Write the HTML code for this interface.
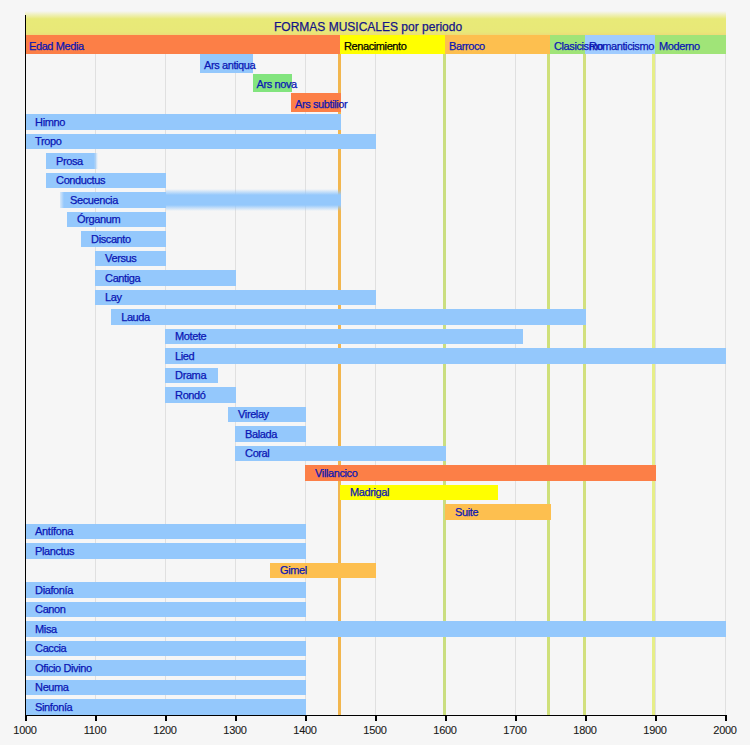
<!DOCTYPE html>
<html><head><meta charset="utf-8"><style>
html,body{margin:0;padding:0;background:#f6f6f6;width:750px;height:745px;overflow:hidden}
#c{position:relative;width:750px;height:745px;font-family:"Liberation Sans",sans-serif}
.b{position:absolute}
.t{position:absolute;white-space:nowrap;font-size:11px;line-height:12px;color:#0a16b4;letter-spacing:-0.4px;-webkit-text-stroke:0.25px}
</style></head><body><div id="c">

<div class="b" style="left:95.00px;top:54px;width:1px;height:662px;background:#e0e0e0"></div>
<div class="b" style="left:165.00px;top:54px;width:1px;height:662px;background:#e0e0e0"></div>
<div class="b" style="left:235.00px;top:54px;width:1px;height:662px;background:#e0e0e0"></div>
<div class="b" style="left:305.00px;top:54px;width:1px;height:662px;background:#e0e0e0"></div>
<div class="b" style="left:375.00px;top:54px;width:1px;height:662px;background:#e0e0e0"></div>
<div class="b" style="left:445.00px;top:54px;width:1px;height:662px;background:#e0e0e0"></div>
<div class="b" style="left:515.00px;top:54px;width:1px;height:662px;background:#e0e0e0"></div>
<div class="b" style="left:585.00px;top:54px;width:1px;height:662px;background:#e0e0e0"></div>
<div class="b" style="left:655.00px;top:54px;width:1px;height:662px;background:#e0e0e0"></div>
<div class="b" style="left:725.00px;top:54px;width:1px;height:662px;background:#e0e0e0"></div>
<div class="b" style="left:338.00px;top:54px;width:3px;height:662px;background:#f2b64e"></div>
<div class="b" style="left:442.80px;top:54px;width:3px;height:662px;background:#cade80"></div>
<div class="b" style="left:547.10px;top:54px;width:3px;height:662px;background:#cfe07a"></div>
<div class="b" style="left:582.50px;top:54px;width:3px;height:662px;background:#d2e07e"></div>
<div class="b" style="left:651.70px;top:54px;width:3px;height:662px;background:#e6ee88"></div>
<div class="b" style="left:25px;top:11px;width:701px;height:24px;background:linear-gradient(to bottom,rgba(232,234,120,0) 0px,rgba(232,234,120,0.5) 4px,#e8ea78 8px,#e8e878 21px,#ecdc78 24px)"></div>
<div class="b" style="left:25.00px;top:35px;width:315.00px;height:19px;background:#fc7f47"></div>
<div class="b" style="left:340.00px;top:35px;width:105.00px;height:19px;background:#ffff00"></div>
<div class="b" style="left:445.00px;top:35px;width:105.00px;height:19px;background:#fdbf4f"></div>
<div class="b" style="left:550.00px;top:35px;width:35.00px;height:19px;background:#a0e478"></div>
<div class="b" style="left:585.00px;top:35px;width:70.00px;height:19px;background:#a0ccff"></div>
<div class="b" style="left:655.00px;top:35px;width:70.98px;height:19px;background:#a0e478"></div>
<div class="b" style="left:200.00px;top:54.15px;width:53.30px;height:18.5px;background:#94c8fc"></div>
<div class="b" style="left:252.50px;top:73.65px;width:39.30px;height:18.5px;background:#82e47e"></div>
<div class="b" style="left:291.00px;top:93.15px;width:49.80px;height:18.5px;background:#fc7f47"></div>
<div class="b" style="left:25.00px;top:114.15px;width:315.80px;height:15.5px;background:#94c8fc"></div>
<div class="b" style="left:25.00px;top:133.65px;width:350.80px;height:15.5px;background:#94c8fc"></div>
<div class="b" style="left:46.00px;top:153.15px;width:52.00px;height:15.5px;background:linear-gradient(to right,#94c8fc 0px,#94c8fc 48px,rgba(148,200,252,0) 52px)"></div>
<div class="b" style="left:46.00px;top:172.65px;width:119.80px;height:15.5px;background:#94c8fc"></div>
<div class="b" style="left:60.00px;top:192.15px;width:106px;height:15.5px;background:linear-gradient(to right,rgba(148,200,252,0.3) 0px,#94c8fc 4px)"></div>
<div class="b" style="left:166px;top:188.90px;width:175px;height:22px;background:linear-gradient(to bottom,rgba(148,200,252,0) 0px,#94c8fc 6px,#94c8fc 16px,rgba(148,200,252,0) 22px)"></div>
<div class="b" style="left:67.00px;top:211.65px;width:98.80px;height:15.5px;background:#94c8fc"></div>
<div class="b" style="left:81.00px;top:231.15px;width:84.80px;height:15.5px;background:#94c8fc"></div>
<div class="b" style="left:95.00px;top:250.65px;width:70.80px;height:15.5px;background:#94c8fc"></div>
<div class="b" style="left:95.00px;top:270.15px;width:140.80px;height:15.5px;background:#94c8fc"></div>
<div class="b" style="left:95.00px;top:289.65px;width:280.80px;height:15.5px;background:#94c8fc"></div>
<div class="b" style="left:111.10px;top:309.15px;width:474.70px;height:15.5px;background:#94c8fc"></div>
<div class="b" style="left:165.00px;top:328.65px;width:357.80px;height:15.5px;background:#94c8fc"></div>
<div class="b" style="left:165.00px;top:348.15px;width:560.80px;height:15.5px;background:#94c8fc"></div>
<div class="b" style="left:165.00px;top:367.65px;width:53.30px;height:15.5px;background:#94c8fc"></div>
<div class="b" style="left:165.00px;top:387.15px;width:70.80px;height:15.5px;background:#94c8fc"></div>
<div class="b" style="left:228.00px;top:406.65px;width:77.80px;height:15.5px;background:#94c8fc"></div>
<div class="b" style="left:235.00px;top:426.15px;width:70.80px;height:15.5px;background:#94c8fc"></div>
<div class="b" style="left:235.00px;top:445.65px;width:210.80px;height:15.5px;background:#94c8fc"></div>
<div class="b" style="left:305.00px;top:465.15px;width:350.80px;height:15.5px;background:#fc7f47"></div>
<div class="b" style="left:340.00px;top:484.65px;width:158.30px;height:15.5px;background:#ffff00"></div>
<div class="b" style="left:445.00px;top:504.15px;width:105.80px;height:15.5px;background:#fdbf4f"></div>
<div class="b" style="left:25.00px;top:523.65px;width:280.80px;height:15.5px;background:#94c8fc"></div>
<div class="b" style="left:25.00px;top:543.15px;width:280.80px;height:15.5px;background:#94c8fc"></div>
<div class="b" style="left:270.00px;top:562.65px;width:105.80px;height:15.5px;background:#fdbf4f"></div>
<div class="b" style="left:25.00px;top:582.15px;width:280.80px;height:15.5px;background:#94c8fc"></div>
<div class="b" style="left:25.00px;top:601.65px;width:280.80px;height:15.5px;background:#94c8fc"></div>
<div class="b" style="left:25.00px;top:621.15px;width:700.80px;height:15.5px;background:#94c8fc"></div>
<div class="b" style="left:25.00px;top:640.65px;width:280.80px;height:15.5px;background:#94c8fc"></div>
<div class="b" style="left:25.00px;top:660.15px;width:280.80px;height:15.5px;background:#94c8fc"></div>
<div class="b" style="left:25.00px;top:679.65px;width:280.80px;height:15.5px;background:#94c8fc"></div>
<div class="b" style="left:25.00px;top:699.15px;width:280.80px;height:15.5px;background:#94c8fc"></div>
<div class="b" style="left:25px;top:15px;width:1.2px;height:701px;background:#000"></div>
<div class="b" style="left:25px;top:715px;width:701px;height:1.4px;background:#000"></div>
<div class="b" style="left:25.00px;top:715px;width:1.5px;height:6px;background:#000"></div>
<div class="t" style="left:-5.00px;top:724px;width:60px;text-align:center;color:#1a1a1a;-webkit-text-stroke:0.1px;letter-spacing:-0.3px">1000</div>
<div class="b" style="left:95.00px;top:715px;width:1.5px;height:6px;background:#000"></div>
<div class="t" style="left:65.00px;top:724px;width:60px;text-align:center;color:#1a1a1a;-webkit-text-stroke:0.1px;letter-spacing:-0.3px">1100</div>
<div class="b" style="left:165.00px;top:715px;width:1.5px;height:6px;background:#000"></div>
<div class="t" style="left:135.00px;top:724px;width:60px;text-align:center;color:#1a1a1a;-webkit-text-stroke:0.1px;letter-spacing:-0.3px">1200</div>
<div class="b" style="left:235.00px;top:715px;width:1.5px;height:6px;background:#000"></div>
<div class="t" style="left:205.00px;top:724px;width:60px;text-align:center;color:#1a1a1a;-webkit-text-stroke:0.1px;letter-spacing:-0.3px">1300</div>
<div class="b" style="left:305.00px;top:715px;width:1.5px;height:6px;background:#000"></div>
<div class="t" style="left:275.00px;top:724px;width:60px;text-align:center;color:#1a1a1a;-webkit-text-stroke:0.1px;letter-spacing:-0.3px">1400</div>
<div class="b" style="left:375.00px;top:715px;width:1.5px;height:6px;background:#000"></div>
<div class="t" style="left:345.00px;top:724px;width:60px;text-align:center;color:#1a1a1a;-webkit-text-stroke:0.1px;letter-spacing:-0.3px">1500</div>
<div class="b" style="left:445.00px;top:715px;width:1.5px;height:6px;background:#000"></div>
<div class="t" style="left:415.00px;top:724px;width:60px;text-align:center;color:#1a1a1a;-webkit-text-stroke:0.1px;letter-spacing:-0.3px">1600</div>
<div class="b" style="left:515.00px;top:715px;width:1.5px;height:6px;background:#000"></div>
<div class="t" style="left:485.00px;top:724px;width:60px;text-align:center;color:#1a1a1a;-webkit-text-stroke:0.1px;letter-spacing:-0.3px">1700</div>
<div class="b" style="left:585.00px;top:715px;width:1.5px;height:6px;background:#000"></div>
<div class="t" style="left:555.00px;top:724px;width:60px;text-align:center;color:#1a1a1a;-webkit-text-stroke:0.1px;letter-spacing:-0.3px">1800</div>
<div class="b" style="left:655.00px;top:715px;width:1.5px;height:6px;background:#000"></div>
<div class="t" style="left:625.00px;top:724px;width:60px;text-align:center;color:#1a1a1a;-webkit-text-stroke:0.1px;letter-spacing:-0.3px">1900</div>
<div class="b" style="left:725.00px;top:715px;width:1.5px;height:6px;background:#000"></div>
<div class="t" style="left:695.00px;top:724px;width:60px;text-align:center;color:#1a1a1a;-webkit-text-stroke:0.1px;letter-spacing:-0.3px">2000</div>
<div class="t" style="left:274px;top:20px;font-size:12px;line-height:14px;letter-spacing:0;color:#141488">FORMAS MUSICALES por periodo</div>
<div class="t" style="left:29.00px;top:40px;color:#0a16b4">Edad Media</div>
<div class="t" style="left:344.00px;top:40px;color:#000000">Renacimiento</div>
<div class="t" style="left:449.00px;top:40px;color:#0a16b4">Barroco</div>
<div class="t" style="left:554.00px;top:40px;color:#0a16b4">Clasicismo</div>
<div class="t" style="left:589.00px;top:40px;color:#0a16b4">Romanticismo</div>
<div class="t" style="left:659.00px;top:40px;color:#0a16b4">Moderno</div>
<div class="t" style="left:204.00px;top:58.80px">Ars antiqua</div>
<div class="t" style="left:256.50px;top:78.30px">Ars nova</div>
<div class="t" style="left:295.00px;top:97.80px">Ars subtilior</div>
<div class="t" style="left:35.10px;top:115.80px">Himno</div>
<div class="t" style="left:35.10px;top:135.30px">Tropo</div>
<div class="t" style="left:56.10px;top:154.80px">Prosa</div>
<div class="t" style="left:56.10px;top:174.30px">Conductus</div>
<div class="t" style="left:70.10px;top:193.80px">Secuencia</div>
<div class="t" style="left:77.10px;top:213.30px">Órganum</div>
<div class="t" style="left:91.10px;top:232.80px">Discanto</div>
<div class="t" style="left:105.10px;top:252.30px">Versus</div>
<div class="t" style="left:105.10px;top:271.80px">Cantiga</div>
<div class="t" style="left:105.10px;top:291.30px">Lay</div>
<div class="t" style="left:121.20px;top:310.80px">Lauda</div>
<div class="t" style="left:175.10px;top:330.30px">Motete</div>
<div class="t" style="left:175.10px;top:349.80px">Lied</div>
<div class="t" style="left:175.10px;top:369.30px">Drama</div>
<div class="t" style="left:175.10px;top:388.80px">Rondó</div>
<div class="t" style="left:238.10px;top:408.30px">Virelay</div>
<div class="t" style="left:245.10px;top:427.80px">Balada</div>
<div class="t" style="left:245.10px;top:447.30px">Coral</div>
<div class="t" style="left:315.10px;top:466.80px">Villancico</div>
<div class="t" style="left:350.10px;top:486.30px">Madrigal</div>
<div class="t" style="left:455.10px;top:505.80px">Suite</div>
<div class="t" style="left:35.10px;top:525.30px">Antífona</div>
<div class="t" style="left:35.10px;top:544.80px">Planctus</div>
<div class="t" style="left:280.10px;top:564.30px">Gimel</div>
<div class="t" style="left:35.10px;top:583.80px">Diafonía</div>
<div class="t" style="left:35.10px;top:603.30px">Canon</div>
<div class="t" style="left:35.10px;top:622.80px">Misa</div>
<div class="t" style="left:35.10px;top:642.30px">Caccia</div>
<div class="t" style="left:35.10px;top:661.80px">Oficio Divino</div>
<div class="t" style="left:35.10px;top:681.30px">Neuma</div>
<div class="t" style="left:35.10px;top:700.80px">Sinfonía</div>
</div></body></html>
